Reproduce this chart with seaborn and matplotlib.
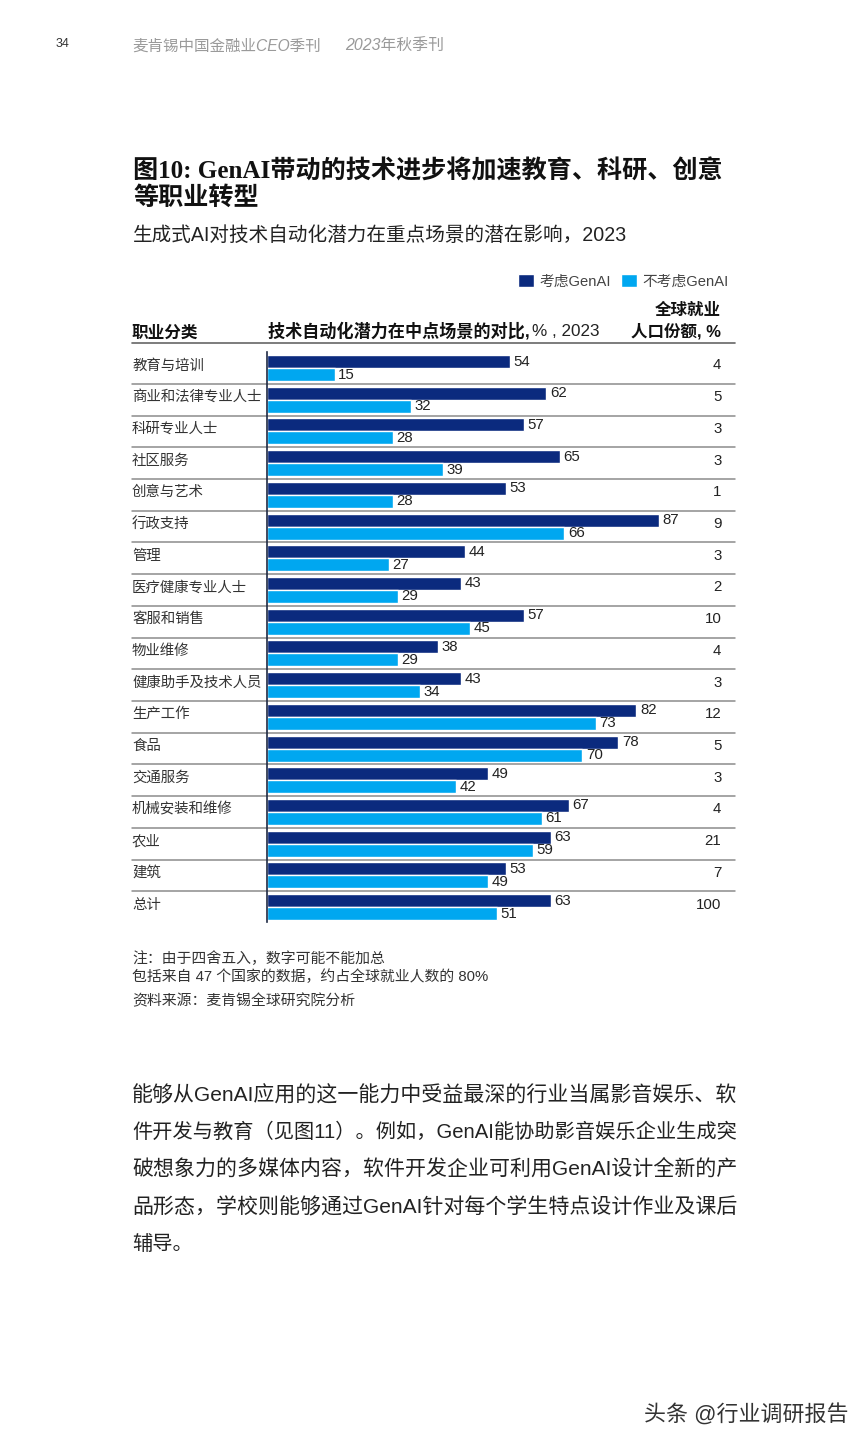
import matplotlib
matplotlib.use("Agg")
import matplotlib.pyplot as plt
import pandas as pd
import seaborn as sns

categories = ["教育与培训", "商业和法律专业人士", "科研专业人士", "社区服务", "创意与艺术",
              "行政支持", "管理", "医疗健康专业人士", "客服和销售", "物业维修",
              "健康助手及技术人员", "生产工作", "食品", "交通服务", "机械安装和维修",
              "农业", "建筑", "总计"]
with_genai = [54, 62, 57, 65, 53, 87, 44, 43, 57, 38, 43, 82, 78, 49, 67, 63, 53, 63]
without_genai = [15, 32, 28, 39, 28, 66, 27, 29, 45, 29, 34, 73, 70, 42, 61, 59, 49, 51]
employment_share = [4, 5, 3, 3, 1, 9, 3, 2, 10, 4, 3, 12, 5, 3, 4, 21, 7, 100]
series_names = ["考虑GenAI", "不考虑GenAI"]

body_lines = ["能够从GenAI应用的这一能力中受益最深的行业当属影音娱乐、软",
              "件开发与教育（见图11）。例如，GenAI能协助影音娱乐企业生成突",
              "破想象力的多媒体内容，软件开发企业可利用GenAI设计全新的产",
              "品形态，学校则能够通过GenAI针对每个学生特点设计作业及课后",
              "辅导。"]

W, H = 867, 1444
SANS = ["Liberation Sans", "Noto Sans CJK SC"]
SERIF = ["Liberation Serif", "Noto Sans CJK SC"]
DARK = "#0B2A7E"
LIGHT = "#00A7F0"

sns.set_theme(style="white")
plt.rcParams["font.family"] = SANS

fig = plt.figure(figsize=(W / 100, H / 100), dpi=100, facecolor="white")


def put(x, y, s, size, **kw):
    # page text, placed in image pixels; CJK sits high with va=center, so nudge down
    kw.setdefault("va", "center")
    kw.setdefault("color", "#222222")
    kw.setdefault("family", SANS)
    return fig.text(x / W, 1 - (y + size * 0.17) / H, s, fontsize=size, **kw)


# page header
put(56, 42, "34", 9, color="#333333")
put(132, 44, "麦肯锡中国金融业CEO季刊", 11.2, color="#9a9a9a", style="italic")
put(345, 44, "2023年秋季刊", 11.4, color="#9a9a9a", style="italic")

# title block
put(133, 168, "图10: GenAI带动的技术进步将加速教育、科研、创意", 18.1,
    family=SERIF, weight="bold", color="#111111")
put(133, 195, "等职业转型", 18.1, family=SERIF, weight="bold", color="#111111")
put(133, 233, "生成式AI对技术自动化潜力在重点场景的潜在影响，2023", 14.1)

# chart, axes box in pixels: x 267-735, y 352-922
ax = fig.add_axes([267 / W, 1 - 922 / H, 468 / W, 570 / H])
df = pd.DataFrame({
    "category": categories * 2,
    "value": with_genai + without_genai,
    "series": [series_names[0]] * len(categories) + [series_names[1]] * len(categories),
})
sns.barplot(data=df, y="category", x="value", hue="series", orient="h",
            palette=[DARK, LIGHT], width=0.82, gap=0, saturation=1, ax=ax)

ax.set_xlim(0, 468 / 4.506)
ax.set_ylim(17.47, -0.505)
ax.set_xlabel("")
ax.set_ylabel("")
ax.set_xticks([])
ax.set_yticks([])
ax.patch.set_alpha(0)
sns.despine(ax=ax, top=True, right=True, bottom=True)
ax.spines["left"].set_color("#1f2a44")
ax.spines["left"].set_linewidth(1.2)

for bars in ax.containers:
    ax.bar_label(bars, padding=2.5, fontsize=10.8, color="#222222")

# row labels, separators and share column
trans = ax.get_yaxis_transform()
left = (132 - 267) / 468
for i, (name, share) in enumerate(zip(categories, employment_share)):
    ax.text(left, i - 0.08, name, transform=trans, fontsize=10.4, va="center",
            ha="left", color="#333333", clip_on=False)
    ax.text(0.971, i - 0.08, str(share), transform=trans, fontsize=10.8, va="center",
            ha="right", color="#222222", clip_on=False)
    if i < len(categories) - 1:
        ax.plot([left, 1], [i + 0.5, i + 0.5], transform=trans, color="#8c8c8c",
                lw=1.1, clip_on=False, zorder=1)

# column headers
fig.add_artist(plt.Line2D([132 / W, 735 / W], [1 - 343 / H] * 2, color="#666666", lw=1.2))
put(132, 331, "职业分类", 12, weight="bold", color="#111111")
put(268, 329, "技术自动化潜力在中点场景的对比, ", 12.3, weight="bold", color="#111111")
put(532, 329, "% , 2023", 12.3, color="#222222")
put(721, 308, "全球就业", 11.9, weight="bold", ha="right", color="#111111")
put(721, 329, "人口份额, %", 11.9, weight="bold", ha="right", color="#111111")

# legend
sns.move_legend(ax, "center right", bbox_to_anchor=(729 / W, 1 - 281 / H),
                bbox_transform=fig.transFigure, ncol=2, frameon=False, title=None,
                fontsize=10.6, handlelength=1.08, handleheight=1.08, handletextpad=0.4,
                columnspacing=0.68, borderpad=0, borderaxespad=0)
for t in ax.get_legend().get_texts():
    t.set_color("#444444")

# notes
put(132, 957, "注：由于四舍五入，数字可能不能加总", 10.7, color="#333333")
put(132, 975, "包括来自 47 个国家的数据，约占全球就业人数的 80%", 10.7, color="#333333")
put(132, 999, "资料来源：麦肯锡全球研究院分析", 10.7, color="#333333")

# body copy, the full lines are justified to the text column
renderer = fig.canvas.get_renderer()
for y, line in zip([1093, 1130, 1167, 1205, 1242], body_lines):
    txt = put(132, y, line, 14.6, color="#222222")
    if line != body_lines[-1]:
        width = txt.get_window_extent(renderer).width
        txt.set_fontsize(14.6 * 603 / width)

# watermark
put(848, 1412, "头条 @行业调研报告", 15.8, ha="right", color="#333333")

fig.savefig("out.png", dpi=100, facecolor="white")
